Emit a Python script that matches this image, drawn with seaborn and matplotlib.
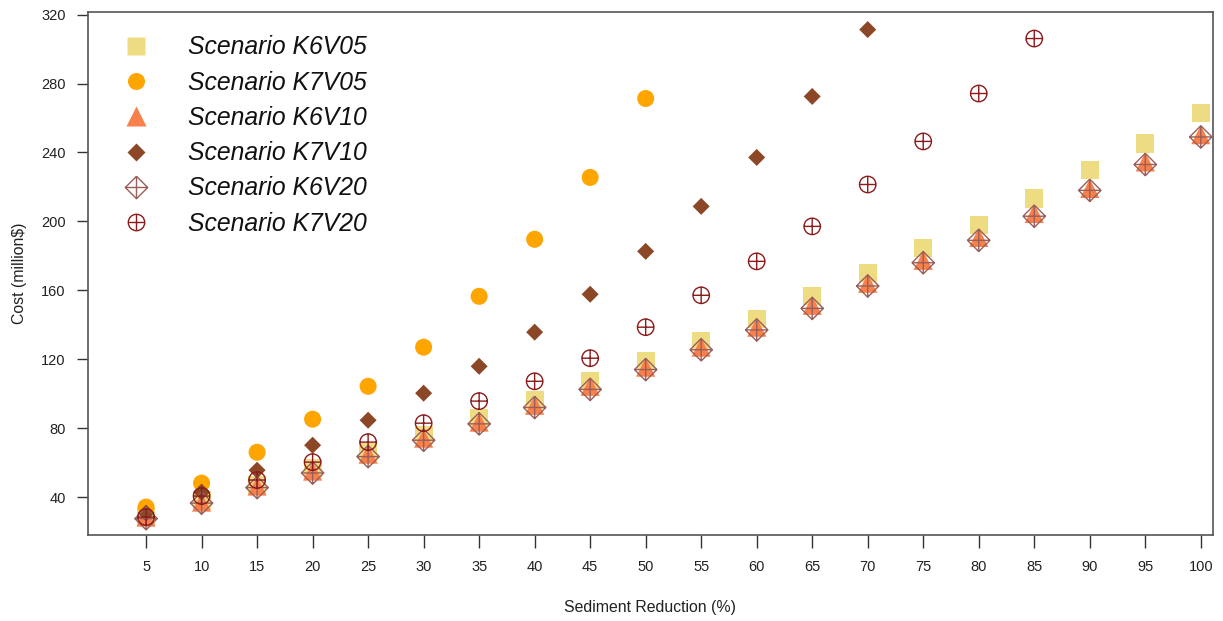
import numpy as np
import pandas as pd
import matplotlib
matplotlib.use("Agg")
import matplotlib.pyplot as plt
from matplotlib.path import Path
from matplotlib.lines import Line2D
import seaborn as sns

# ---- data ----
reduction = [5, 10, 15, 20, 25, 30, 35, 40, 45, 50, 55, 60, 65, 70, 75, 80, 85, 90, 95, 100]

k6v05 = [29, 38, 47, 57, 66, 76, 86, 96.2, 107.2, 118.8, 130.4, 143.2, 156.5, 169.9,
         184.3, 197.7, 213.3, 229.6, 245.2, 262.8]
k7v05 = [34.2, 48.1, 66, 85.2, 104.3, 127, 156.5, 189.6, 225.5, 271.3]
k6v10 = [28.4, 37.1, 46.4, 55.1, 64.9, 74.2, 83.5, 93.3, 104.3, 115.4, 127, 138.6,
         151.3, 164.1, 177.4, 190.7, 204.6, 219.1, 234.5, 250.3]
k7v10 = [30.7, 42.9, 55.6, 70.1, 84.6, 100.3, 115.9, 135.7, 157.7, 182.6, 208.7,
         237.1, 272.5, 311.3]
k6v20 = [27.5, 36.5, 45.5, 54, 63.5, 73, 82.5, 92, 102.5, 114, 125.5, 137, 149.5,
         162.5, 176, 189, 203, 218, 233, 249]
k7v20 = [28.4, 40.6, 49.9, 60.3, 71.9, 82.9, 95.7, 107.2, 120.6, 138.6, 157.1,
         176.8, 197.1, 221.4, 246.4, 274.2, 306.1]

labels = ["Scenario K6V05", "Scenario K7V05", "Scenario K6V10",
          "Scenario K7V10", "Scenario K6V20", "Scenario K7V20"]
series = [k6v05, k7v05, k6v10, k7v10, k6v20, k7v20]

x_ticks = list(range(5, 101, 5))
y_ticks = [40, 80, 120, 160, 200, 240, 280, 320]

# ---- custom markers ----
diamond_plus = Path(
    [(0, 1), (1, 0), (0, -1), (-1, 0), (0, 1), (-1, 0), (1, 0), (0, -1), (0, 1)],
    [Path.MOVETO, Path.LINETO, Path.LINETO, Path.LINETO, Path.LINETO,
     Path.MOVETO, Path.LINETO, Path.MOVETO, Path.LINETO])
circ = Path.unit_circle()
cross = Path([(-1, 0), (1, 0), (0, -1), (0, 1)],
             [Path.MOVETO, Path.LINETO, Path.MOVETO, Path.LINETO])
circle_plus = Path.make_compound_path(circ, cross)

styles = [
    dict(marker="s", color="#EEDC82", filled=True, s=170),
    dict(marker="o", color="#FFA500", filled=True, s=150),
    dict(marker="^", color="#F8804A", filled=True, s=190),
    dict(marker="D", color="#8B4726", filled=True, s=75),
    dict(marker=diamond_plus, color="#9A5F5A", filled=False, s=260),
    dict(marker=circle_plus, color="#8B1A1A", filled=False, s=140),
]

sns.set_theme(style="white")
plt.rcParams["font.family"] = ["Liberation Sans", "DejaVu Sans"]

fig = plt.figure(figsize=(12.23, 6.21), dpi=100)
ax = fig.add_axes([88 / 1223, 1 - 535 / 621, (1213 - 88) / 1223, (535 - 12) / 621])

handles = []
for lab, vals, st in zip(labels, series, styles):
    df = pd.DataFrame({"x": reduction[:len(vals)], "y": vals})
    if st["filled"]:
        sns.scatterplot(data=df, x="x", y="y", ax=ax, marker=st["marker"], s=st["s"],
                        color=st["color"], edgecolor="none", linewidth=0, zorder=3)
        h = Line2D([], [], linestyle="none", marker=st["marker"],
                   markersize=np.sqrt(st["s"]), markerfacecolor=st["color"],
                   markeredgecolor="none")
    else:
        sns.scatterplot(data=df, x="x", y="y", ax=ax, marker=st["marker"], s=st["s"],
                        facecolor="none", edgecolor=st["color"], linewidth=1.0, zorder=3)
        h = Line2D([], [], linestyle="none", marker=st["marker"],
                   markersize=np.sqrt(st["s"]), markerfacecolor="none",
                   markeredgecolor=st["color"], markeredgewidth=1.0)
    handles.append(h)

ax.set_xlim(-0.23, 101.1)
ax.set_ylim(18, 321.5)
ax.set_xticks(x_ticks)
ax.set_xticklabels([str(v) for v in x_ticks])
ax.set_yticks(y_ticks)
ax.set_yticklabels([str(v) for v in y_ticks])
ax.tick_params(axis="both", which="both", direction="out", length=8, width=1,
               color="#333333", labelsize=10.5, labelcolor="#222222", pad=8,
               bottom=True, left=True)
ax.tick_params(axis="x", length=9, pad=9)
for sp in ax.spines.values():
    sp.set_visible(True)
    sp.set_color("#555555")
    sp.set_linewidth(1.2)

ax.set_xlabel("Sediment Reduction (%)", fontsize=11.4, color="#222222", labelpad=19)
ax.set_ylabel("Cost (million$)", fontsize=11.4, color="#222222", labelpad=10)

leg = ax.legend(handles, labels, loc="upper left", bbox_to_anchor=(0.0226, 0.974),
                frameon=False, prop={"style": "italic", "size": 17.8},
                handlelength=1.0, handletextpad=1.6, labelspacing=0.455,
                borderaxespad=0)
for t in leg.get_texts():
    t.set_color("#111111")

fig.savefig("out.png", dpi=100)
